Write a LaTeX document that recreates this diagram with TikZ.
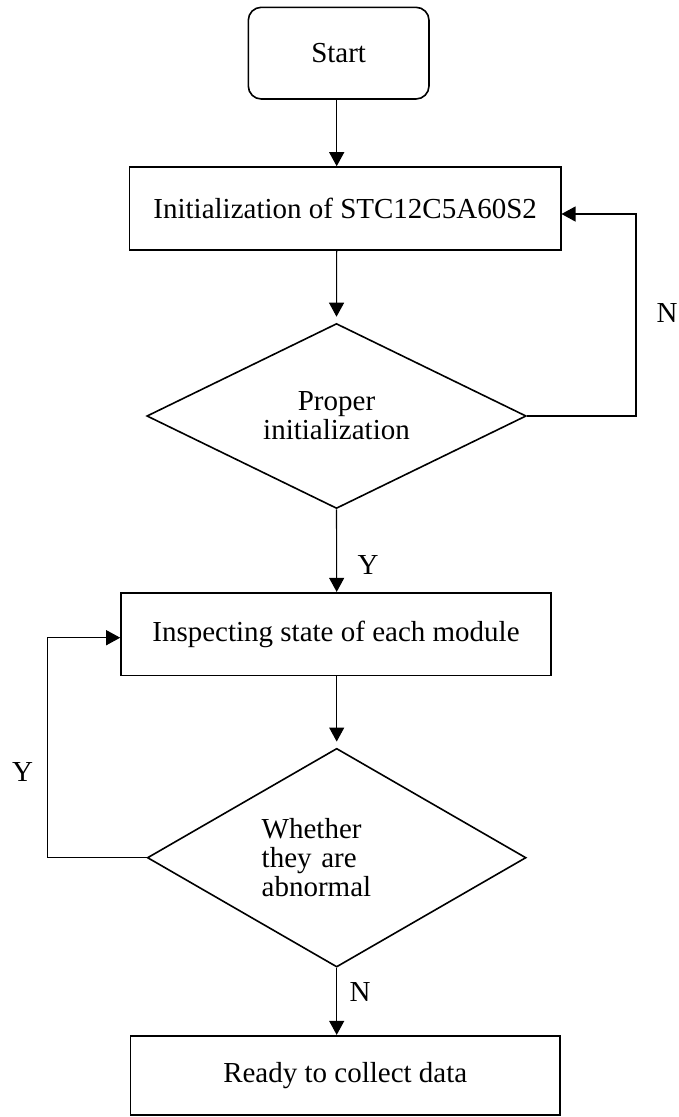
\documentclass[tikz,border=0pt]{standalone}
\usepackage{fontspec}
\setmainfont{Liberation Serif}
\usetikzlibrary{shapes.geometric,arrows.meta}
\begin{document}
\begin{tikzpicture}[x=1pt,y=-1pt,
  every node/.style={font=\fontsize{29}{29}\selectfont},
  termbox/.style={draw,line width=1.6pt,rectangle,rounded corners=13pt,inner sep=0pt},
  procbox/.style={draw,line width=1.6pt,rectangle,inner sep=0pt},
  decision/.style={draw,line width=1.6pt,diamond,aspect=2,inner sep=0pt},
  flow/.style={line width=1.1pt,-{Triangle[width=15pt,length=14pt]}},
  lbl/.style={inner sep=0pt}]
\useasboundingbox (0,0) rectangle (678,1117);

% main column of the flow
\coordinate (col) at (336.7,0);

% blocks
\node[termbox, minimum width=180.7pt, minimum height=91.7pt] (start) at (338.65,53.15) {Start};
\node[procbox, minimum width=431.1pt, minimum height=83pt] (init) at (345.15,208.5) {Initialization of STC12C5A60S2};
\node[decision, minimum width=379.4pt, minimum height=185pt, align=center] (chk1) at (336.5,416) {Proper\\initialization};
\node[procbox, minimum width=430pt, minimum height=82.8pt] (insp) at (336,634.1) {Inspecting state of each module};
\node[decision, minimum width=378.7pt, minimum height=218.7pt, text width=150pt, align=left] (chk2) at (336.7,857.7) {Whether\\they are\\abnormal};
\node[procbox, minimum width=429.5pt, minimum height=79.3pt] (ready) at (345.25,1075.35) {Ready to collect data};

% straight connectors
\draw[flow] (start.south -| col) -- (init.north -| col);
\draw[flow, shorten >=6pt] (init.south -| col) -- (chk1.north);
\draw[flow] (chk1.south) -- (insp.north -| col);
\draw[flow, shorten >=6pt] (insp.south -| col) -- (chk2.north);
\draw[flow] (chk2.south) -- (ready.north -| col);

% feedback loops
\coordinate (nturn) at (636,214);
\draw[flow] (chk1.east) -| (nturn) -- (nturn -| init.east);
\coordinate (yturn) at (47.7,637.7);
\draw[flow] (chk2.west) -| (yturn) -- (yturn -| insp.west);

% branch labels
\node[lbl] (n1) at (667,313) {N};
\node[lbl] (y1) at (368,565) {Y};
\node[lbl] (y2) at (22.7,771.7) {Y};
\node[lbl] (n2) at (360,991.7) {N};
\end{tikzpicture}
\end{document}
